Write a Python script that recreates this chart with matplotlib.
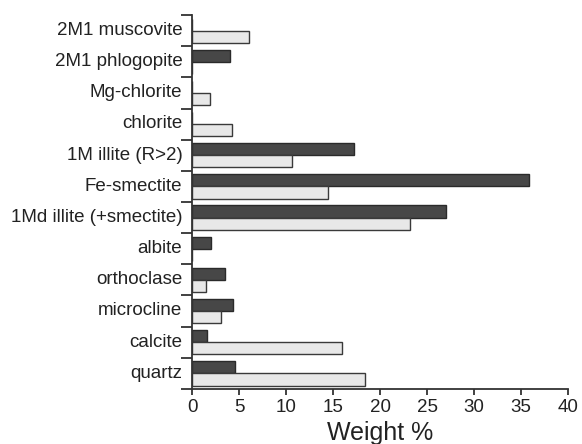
import numpy as np
import matplotlib.pyplot as plt

plt.rcParams['font.family'] = ['Liberation Sans', 'DejaVu Sans']

# minerals, top to bottom
minerals = ['2M1 muscovite', '2M1 phlogopite', 'Mg-chlorite', 'chlorite',
            '1M illite (R>2)', 'Fe-smectite', '1Md illite (+smectite)', 'albite',
            'orthoclase', 'microcline', 'calcite', 'quartz']
# dark series (upper bar) and light series (lower bar), weight %
dark_vals = [0, 4.0, 0, 0, 17.2, 35.85, 27.0, 2.0, 3.5, 4.35, 1.6, 4.6]
light_vals = [6.1, 0, 1.9, 4.2, 10.6, 14.5, 23.2, 0, 1.5, 3.1, 15.9, 18.35]

pos = np.arange(len(minerals))
h = 0.39

fig = plt.figure(figsize=(5.82, 4.44), dpi=100)
ax = fig.add_axes([0.330, 0.124, 0.646, 0.842])

ax.barh(pos - h / 2, dark_vals, height=h, color='#474747', edgecolor='#2a2a2a', linewidth=1.0)
ax.barh(pos + h / 2, light_vals, height=h, color='#e8e8e8', edgecolor='#3a3a3a', linewidth=1.0)

ax.set_xlim(0, 40)
ax.set_ylim(len(minerals) - 0.5, -0.5)
ax.set_xticks(np.arange(0, 41, 5))

# ticks at the category boundaries, labels in the middle
ax.set_yticks(np.arange(-0.5, len(minerals), 1.0))
ax.set_yticklabels([])
ax.set_yticks(pos - 0.07, minor=True)
ax.set_yticklabels(minerals, minor=True, fontsize=13.5, color='#222222')
ax.tick_params(axis='y', which='minor', length=0, pad=7)
ax.tick_params(axis='y', which='major', length=8, width=1.3, color='#333333')
ax.tick_params(axis='x', length=4, width=1.3, color='#333333', labelsize=13.5,
               labelcolor='#222222', pad=3)

ax.spines['top'].set_visible(False)
ax.spines['right'].set_visible(False)
for s in ['left', 'bottom']:
    ax.spines[s].set_linewidth(1.3)
    ax.spines[s].set_color('#333333')

ax.set_xlabel('Weight %', fontsize=18, color='#222222', labelpad=4)

fig.savefig('out.png', dpi=100)
